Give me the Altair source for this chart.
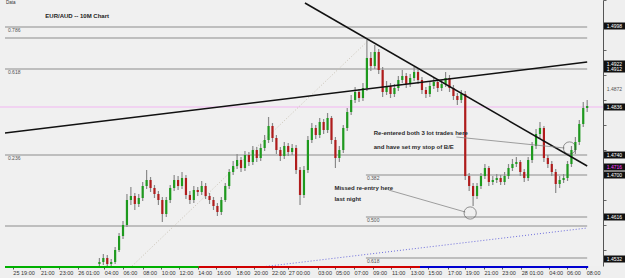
import altair as alt
import pandas as pd

# ---------------- data (EUR/AUD, 10-minute candles) ----------------
first_open = 1.4522
closes = [
    1.4526, 1.4534, 1.4522, 1.4526, 1.4550, 1.4578, 1.4600, 1.4650, 1.4658, 1.4642,
    1.4654, 1.4678, 1.4690, 1.4674, 1.4662, 1.4650, 1.4622, 1.4650, 1.4674, 1.4690,
    1.4678, 1.4694, 1.4660, 1.4650, 1.4670, 1.4666, 1.4678, 1.4658, 1.4650, 1.4638,
    1.4626, 1.4650, 1.4678, 1.4706, 1.4718, 1.4730, 1.4714, 1.4740, 1.4726, 1.4750,
    1.4734, 1.4754, 1.4770, 1.4798, 1.4774, 1.4750, 1.4738, 1.4758, 1.4746, 1.4754,
    1.4710, 1.4660, 1.4710, 1.4770, 1.4794, 1.4780, 1.4806, 1.4790, 1.4814, 1.4770,
    1.4734, 1.4750, 1.4794, 1.4826, 1.4850, 1.4866, 1.4854, 1.4874, 1.4934, 1.4918,
    1.4946, 1.4910, 1.4866, 1.4878, 1.4862, 1.4874, 1.4890, 1.4898, 1.4882, 1.4894,
    1.4906, 1.4890, 1.4870, 1.4862, 1.4878, 1.4886, 1.4874, 1.4882, 1.4894, 1.4874,
    1.4858, 1.4850, 1.4862, 1.4698, 1.4678, 1.4658, 1.4678, 1.4698, 1.4714, 1.4686,
    1.4690, 1.4694, 1.4686, 1.4698, 1.4714, 1.4722, 1.4726, 1.4706, 1.4694, 1.4730,
    1.4758, 1.4782, 1.4794, 1.4734, 1.4722, 1.4706, 1.4682, 1.4690, 1.4694, 1.4722,
    1.4750, 1.4766, 1.4802, 1.4834, 1.4838,
]
highs = [
    1.4534, 1.4542, 1.4540, 1.4532, 1.4556, 1.4584, 1.4608, 1.4662, 1.4676, 1.4664,
    1.4662, 1.4686, 1.4710, 1.4696, 1.4680, 1.4668, 1.4656, 1.4656, 1.4680, 1.4700,
    1.4698, 1.4706, 1.4700, 1.4668, 1.4678, 1.4676, 1.4688, 1.4684, 1.4664, 1.4656,
    1.4644, 1.4656, 1.4684, 1.4712, 1.4728, 1.4742, 1.4736, 1.4748, 1.4746, 1.4758,
    1.4756, 1.4762, 1.4780, 1.4816, 1.4804, 1.4780, 1.4756, 1.4766, 1.4764, 1.4762,
    1.4760, 1.4716, 1.4718, 1.4778, 1.4804, 1.4800, 1.4814, 1.4812, 1.4824, 1.4818,
    1.4776, 1.4758, 1.4800, 1.4834, 1.4860, 1.4876, 1.4872, 1.4884, 1.4970, 1.4946,
    1.4960, 1.4952, 1.4916, 1.4888, 1.4884, 1.4882, 1.4898, 1.4910, 1.4904, 1.4902,
    1.4916, 1.4912, 1.4896, 1.4876, 1.4886, 1.4894, 1.4892, 1.4890, 1.4906, 1.4900,
    1.4880, 1.4864, 1.4870, 1.4868, 1.4704, 1.4684, 1.4684, 1.4704, 1.4722, 1.4718,
    1.4698, 1.4702, 1.4700, 1.4706, 1.4722, 1.4732, 1.4736, 1.4730, 1.4712, 1.4736,
    1.4766, 1.4792, 1.4806, 1.4798, 1.4740, 1.4728, 1.4712, 1.4698, 1.4702, 1.4728,
    1.4758, 1.4776, 1.4810, 1.4846, 1.4850,
]
lows = [
    1.4518, 1.4520, 1.4518, 1.4518, 1.4522, 1.4546, 1.4572, 1.4596, 1.4640, 1.4630,
    1.4636, 1.4648, 1.4672, 1.4666, 1.4654, 1.4640, 1.4606, 1.4616, 1.4644, 1.4668,
    1.4670, 1.4672, 1.4652, 1.4642, 1.4644, 1.4658, 1.4660, 1.4652, 1.4642, 1.4630,
    1.4618, 1.4620, 1.4646, 1.4672, 1.4700, 1.4712, 1.4706, 1.4708, 1.4718, 1.4720,
    1.4726, 1.4728, 1.4748, 1.4764, 1.4766, 1.4742, 1.4728, 1.4732, 1.4738, 1.4740,
    1.4702, 1.4640, 1.4654, 1.4704, 1.4764, 1.4772, 1.4774, 1.4782, 1.4784, 1.4762,
    1.4714, 1.4726, 1.4744, 1.4788, 1.4820, 1.4844, 1.4846, 1.4848, 1.4868, 1.4908,
    1.4912, 1.4902, 1.4856, 1.4860, 1.4854, 1.4856, 1.4868, 1.4884, 1.4874, 1.4876,
    1.4888, 1.4882, 1.4862, 1.4854, 1.4856, 1.4872, 1.4866, 1.4868, 1.4876, 1.4866,
    1.4850, 1.4840, 1.4844, 1.4690, 1.4668, 1.4638, 1.4652, 1.4672, 1.4692, 1.4678,
    1.4680, 1.4684, 1.4680, 1.4680, 1.4692, 1.4708, 1.4716, 1.4698, 1.4686, 1.4688,
    1.4724, 1.4752, 1.4774, 1.4726, 1.4714, 1.4698, 1.4664, 1.4674, 1.4684, 1.4688,
    1.4716, 1.4742, 1.4760, 1.4796, 1.4826,
]

# x-axis (time) labels and their bar-index positions
time_labels = ["25 19:00", "21:00", "23:00", "26 01:00", "04:00", "06:00", "08:00", "10:00",
               "12:00", "14:00", "16:00", "18:00", "20:00", "22:00", "27 00:00", "03:00",
               "05:00", "07:00", "09:00", "11:00", "13:00", "15:00", "17:00", "19:00",
               "21:00", "23:00", "28 01:00", "04:00", "06:00", "08:00"]
time_pos = [-22, -15, -10.25, -5.5, 1.25, 6, 11, 15.75, 20.25, 25, 29.75, 34.75, 39.25,
            43.75, 48, 55.5, 60, 64.75, 69.5, 74.25, 79, 83.5, 88.5, 93, 97.75, 102.25,
            107.25, 114.25, 118.75, 123.75]

# trend lines (black)
trend_x1 = [52.25, -24]
trend_y1 = [1.5044, 1.4784]
trend_x2 = [124, 124]
trend_y2 = [1.4718, 1.4926]

# fibonacci levels (grey)
fib_x1 = [-24, -24, -24, -24, -24, 67.75, 67.75, 67.75]
fib_price = [1.4996, 1.4974, 1.4912, 1.4740, 1.4598, 1.4700, 1.4616, 1.4534]
fib_x2 = [124] * 8
fib_lab_x = [-23.25, -23.25, -23.25, 68, 68, 68]
fib_lab_price = [1.4996, 1.4912, 1.4740, 1.4700, 1.4616, 1.4534]
fib_lab_text = ["0.786", "0.618", "0.236", "0.382", "0.500", "0.618"]

current_price = 1.4836

# dotted helper lines
dot_grey = {"x1": 7.25, "y1": 1.4510, "x2": 68.5, "y2": 1.4970}
dot_blue = {"x1": 34.75, "y1": 1.4510, "x2": 124, "y2": 1.4594}

# annotations
note_text = ["Re-entered both 3 lot trades here", "and have set my stop of B/E",
             "Missed re-entry here", "last night"]
note_x = [69.75, 69.75, 59.75, 59.75]
note_price = [1.4784, 1.4756, 1.4674, 1.4652]
pointer_x1 = [90.75, 73.5]
pointer_y1 = [1.4776, 1.4670]
pointer_x2 = [118.25, 93]
pointer_y2 = [1.4754, 1.4626]
circle_x = [119.5, 94.25]
circle_price = [1.4754, 1.4624]

# right price-scale boxes
box_price = [1.4998, 1.4922, 1.4912, 1.4836, 1.4740, 1.4716, 1.4700, 1.4616, 1.4532]
box_color = ["white", "white", "white", "white", "white", "#ff44ff", "white", "white", "white"]
plain_price = [1.4872]

# session colour strip
sess_start = [-24, 25.25, 81.5]
sess_end = [25.25, 81.5, 124.25]
sess_color = ["#00b000", "#d00000", "#0000d0"]

# ---------------- build ----------------
opens = [first_open] + closes[:-1]
candles = pd.DataFrame({
    "i": list(range(len(closes))), "open": opens, "close": closes,
    "high": highs, "low": lows,
})
candles["dir"] = ["up" if c >= o else "down" for o, c in zip(opens, closes)]

W, H = 603, 266
XS = alt.Scale(domain=[-24, 126.75], nice=False, zero=False)
YS = alt.Scale(domain=[1.4518, 1.5050], nice=False, zero=False)

label_expr = ("[" + ",".join("'%s'" % t for t in time_labels) + "][indexof(["
              + ",".join(str(v) for v in time_pos) + "], datum.value)]")
XAX = alt.Axis(values=time_pos, labelExpr=label_expr, labelAlign="left", labelFontSize=5.5,
               labelColor="#333", labelFont="Liberation Sans", tickSize=3, tickColor="#555",
               domain=False, grid=False, labelPadding=1, labelOverlap=False, labelFlush=False,
               labelBound=False, title=None)
YAX = alt.Axis(orient="right", labels=False, tickCount=14, tickSize=3, tickColor="#666",
               domainColor="#555", grid=False, title=None)


def X(f, **kw):
    return alt.X(f, type="quantitative", scale=XS, axis=XAX, **kw)


def Y(f, **kw):
    return alt.Y(f, type="quantitative", scale=YS, axis=YAX, **kw)


wick = alt.Chart(candles).mark_rule(color="#8a8a8a", strokeWidth=1.2, clip=True).encode(
    x=X("i"), y=Y("low"), y2="high")
body = alt.Chart(candles).mark_bar(size=2.2, clip=True).encode(
    x=X("i"), y=Y("open"), y2="close",
    color=alt.Color("dir:N", scale=alt.Scale(domain=["up", "down"], range=["#1e9a1e", "#b01c1c"]),
                    legend=None))

fib_df = pd.DataFrame({"x1": fib_x1, "p": fib_price, "x2": fib_x2})
fib = alt.Chart(fib_df).mark_rule(color="#8c8c8c", strokeWidth=1).encode(
    x=X("x1"), x2="x2", y=Y("p"))
fib_lab = alt.Chart(pd.DataFrame({"x": fib_lab_x, "p": fib_lab_price, "t": fib_lab_text})).mark_text(
    align="left", baseline="top", dy=1, fontSize=5, color="#555", font="Liberation Sans").encode(
    x=X("x"), y=Y("p"), text="t:N")

cur = alt.Chart(pd.DataFrame({"p": [current_price]})).mark_rule(color="#f2b6f2", strokeWidth=1).encode(
    y=Y("p"))

dots = pd.DataFrame([dict(dot_grey, c="g"), dict(dot_blue, c="b")])
dotted_grey = alt.Chart(dots[dots.c == "g"]).mark_rule(
    color="#c9c2b4", strokeWidth=1, strokeDash=[1, 2], clip=True).encode(
    x=X("x1"), y=Y("y1"), x2="x2", y2="y2")
dotted_blue = alt.Chart(dots[dots.c == "b"]).mark_rule(
    color="#6c6cdc", strokeWidth=1, strokeDash=[1, 2], clip=True).encode(
    x=X("x1"), y=Y("y1"), x2="x2", y2="y2")

trend = alt.Chart(pd.DataFrame({"x1": trend_x1, "y1": trend_y1, "x2": trend_x2, "y2": trend_y2})).mark_rule(
    color="#111", strokeWidth=1.5, clip=True).encode(x=X("x1"), y=Y("y1"), x2="x2", y2="y2")

pointers = alt.Chart(pd.DataFrame({"x1": pointer_x1, "y1": pointer_y1, "x2": pointer_x2, "y2": pointer_y2})).mark_rule(
    color="#888", strokeWidth=0.8).encode(x=X("x1"), y=Y("y1"), x2="x2", y2="y2")
circles = alt.Chart(pd.DataFrame({"x": circle_x, "p": circle_price})).mark_point(
    shape="circle", filled=False, color="#444", size=150, strokeWidth=0.8).encode(x=X("x"), y=Y("p"))
notes = alt.Chart(pd.DataFrame({"x": note_x, "p": note_price, "t": note_text})).mark_text(
    align="left", baseline="middle", fontSize=6, fontWeight="bold", color="#2a2a2a",
    font="Liberation Sans").encode(x=X("x"), y=Y("p"), text="t:N")

title = alt.Chart(pd.DataFrame({"x": [-13.75], "p": [1.5018], "t": ["EUR/AUD -- 10M Chart"]})).mark_text(
    align="left", baseline="middle", fontSize=6, fontWeight="bold", color="#222",
    font="Liberation Sans").encode(x=X("x"), y=Y("p"), text="t:N")
data_tag = alt.Chart(pd.DataFrame({"x": [-24], "p": [1.5044], "t": ["Data"]})).mark_text(
    align="left", baseline="middle", fontSize=4.5, dx=1, color="#333",
    font="Liberation Sans").encode(x=X("x"), y=Y("p"), text="t:N")

boxes_df = pd.DataFrame({"p": box_price, "c": box_color,
                         "t": ["%.4f" % v for v in box_price]})
boxes = alt.Chart(boxes_df).mark_tick(color="#111", size=21, thickness=7, opacity=1).encode(
    x=alt.value(614.5), y=Y("p"))
box_txt = alt.Chart(boxes_df).mark_text(fontSize=5, baseline="middle", align="center",
                                        font="Liberation Sans").encode(
    x=alt.value(614.5), y=Y("p"), text="t:N", color=alt.Color("c:N", scale=None))
plain_txt = alt.Chart(pd.DataFrame({"p": plain_price, "t": ["%.4f" % v for v in plain_price]})).mark_text(
    fontSize=5, baseline="middle", align="center", color="#555", font="Liberation Sans").encode(
    x=alt.value(614.5), y=Y("p"), text="t:N")

strip = alt.Chart(pd.DataFrame({"a": sess_start, "b": sess_end, "c": sess_color})).mark_rule(
    strokeWidth=2).encode(x=X("a"), x2="b", y=alt.value(267), color=alt.Color("c:N", scale=None))

chart = alt.layer(
    fib, cur, dotted_grey, dotted_blue, wick, body, trend, pointers, circles,
    fib_lab, notes, title, data_tag, boxes, box_txt, plain_txt, strip
).properties(
    width=W, height=H,
    padding={"left": 0, "top": 0, "right": 22, "bottom": 12},
    autosize=alt.AutoSizeParams(type="none"),
    background="#efefef",
).configure_view(stroke=None, fill="#f0f0f0")

chart.save("out.html", embed_options={"renderer": "svg", "actions": False})
